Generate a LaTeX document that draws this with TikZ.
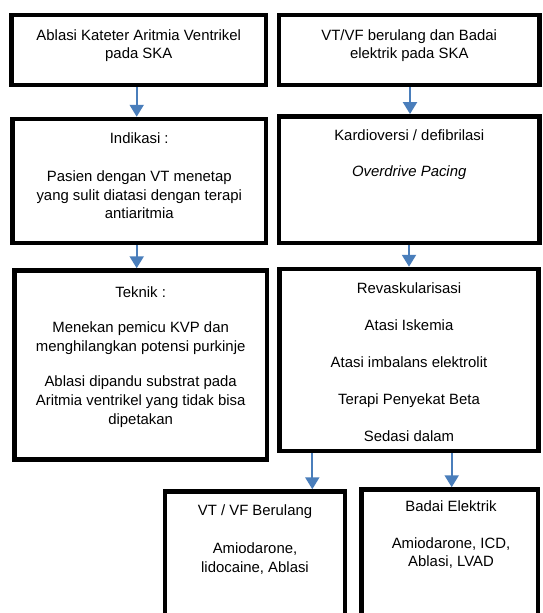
\documentclass[tikz,border=0pt]{standalone}
\usepackage{fontspec}
\setmainfont{Liberation Sans}
\usetikzlibrary{arrows.meta}
\definecolor{arrowblue}{RGB}{74,126,187}
\tikzset{
  box/.style={draw=black, line width=4.5pt, fill=white, inner sep=0pt, outer sep=2.25pt},
  txt/.style={anchor=north, align=center, inner sep=0pt, font=\fontsize{14.9pt}{18.7pt}\selectfont},
  arr/.style={draw=arrowblue, line width=2.2pt, -{Triangle[width=14pt,length=12pt]}}
}
\begin{document}
\begin{tikzpicture}[x=1pt,y=-1pt]
\useasboundingbox[fill=white] (0,0) rectangle (542,613);
\clip (0,0) rectangle (542,613);
% boxes
\node[box, minimum width=254.3pt, minimum height=70pt] (b1) at (138.75,50) {};
\node[box, minimum width=260.5pt, minimum height=70pt] (b2) at (409.25,50) {};
\node[box, minimum width=253.1pt, minimum height=123.8pt] (b3) at (139.25,180.9) {};
\node[box, minimum width=260.5pt, minimum height=126.5pt] (b4) at (409.25,179.55) {};
\node[box, minimum width=252.3pt, minimum height=189pt] (b5) at (140.65,365) {};
\node[box, minimum width=259pt, minimum height=182pt] (b6) at (409,360) {};
\node[box, minimum width=180pt, minimum height=158.5pt] (b7) at (255,570.75) {};
\node[box, minimum width=176.7pt, minimum height=160.5pt] (b8) at (449.65,569.75) {};
% texts
\node[txt] (t1) at (138.75,29.2) {Ablasi Kateter Aritmia Ventrikel\\pada SKA};
\node[txt] (t2) at (409.25,29.2) {VT/VF berulang dan Badai\\elektrik pada SKA};
\node[txt] (t3) at (139.25,132.2) {Indikasi :\\[19.6pt]Pasien dengan VT menetap\\yang sulit diatasi dengan terapi\\antiaritmia};
\node[txt] (t4) at (409.25,129.9) {Kardioversi / defibrilasi\\[17.3pt]\textit{Overdrive Pacing}};
\node[txt] (t5) at (140.65,286.2) {Teknik :\\[17pt]Menekan pemicu KVP dan\\menghilangkan potensi purkinje\\[16.5pt]Ablasi dipandu substrat pada\\Aritmia ventrikel yang tidak bisa\\dipetakan};
\node[txt] (t6) at (409,282.9) {Revaskularisasi\\[18.2pt]Atasi Iskemia\\[18.2pt]Atasi imbalans elektrolit\\[18.2pt]Terapi Penyekat Beta\\[18.2pt]Sedasi dalam};
\node[txt] (t7) at (255,504.2) {VT / VF Berulang\\[19.6pt]Amiodarone,\\lidocaine, Ablasi};
\node[txt] (t8) at (451,500.9) {Badai Elektrik\\[17.6pt]Amiodarone, ICD,\\Ablasi, LVAD};
% arrow positions
\coordinate (xa) at (136.7,0);
\coordinate (xb) at (410,0);
\coordinate (xc) at (409,0);
\coordinate (xd) at (312.3,0);
\coordinate (xe) at (451.7,0);
% connectors
\draw[arr] (b1.south -| xa) -- (b3.north -| xa);
\draw[arr] (b2.south -| xb) -- (b4.north -| xb);
\draw[arr] (b3.south -| xa) -- (b5.north -| xa);
\draw[arr] (b4.south -| xc) -- (b6.north -| xc);
\draw[arr] (b6.south -| xd) -- (b7.north -| xd);
\draw[arr] (b6.south -| xe) -- (b8.north -| xe);
\end{tikzpicture}
\end{document}
